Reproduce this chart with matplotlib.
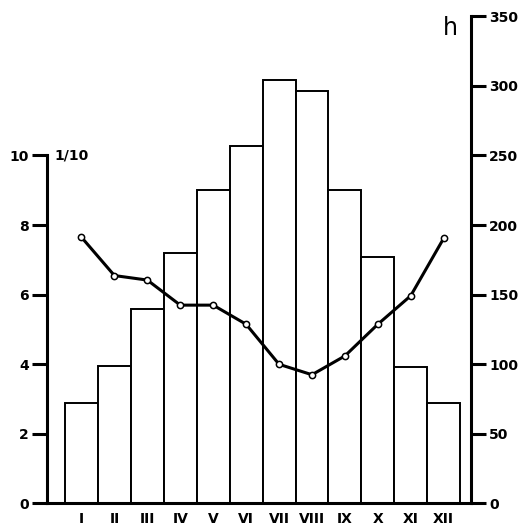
import matplotlib
matplotlib.use("Agg")
import matplotlib.pyplot as plt

months = ["I", "II", "III", "IV", "V", "VI", "VII", "VIII", "IX", "X", "XI", "XII"]
sunshine_h = [72, 99, 140, 180, 225, 257, 304, 296, 225, 177, 98, 72]
cloud_tenths = [7.65, 6.55, 6.42, 5.7, 5.7, 5.15, 4.0, 3.7, 4.24, 5.15, 5.97, 7.62]
left_ticks = [0, 2, 4, 6, 8, 10]
right_ticks = [0, 50, 100, 150, 200, 250, 300, 350]

plt.rcParams['font.family'] = ['DejaVu Sans']

fig = plt.figure(figsize=(5.31, 5.31), dpi=100)
ax = fig.add_axes([0.088, 0.0518, 0.799, 0.9175])
ax2 = ax.twinx()

x = list(range(1, len(months) + 1))

# Bars on right axis (hours)
ax2.bar(x, sunshine_h, width=1.0, facecolor="white", edgecolor="black", linewidth=1.4)
ax2.set_ylim(0, 350)
ax2.set_yticks(right_ticks)
ax2.set_yticklabels([str(t) for t in right_ticks], fontsize=10, fontweight="bold")

# Line on left axis (cloudiness 1/10)
ax.plot(x, cloud_tenths, color="black", linewidth=2.2, marker="o", markersize=4.5,
        markerfacecolor="white", markeredgecolor="black", markeredgewidth=1.1, zorder=5)
ax.set_ylim(0, 14)
ax.set_yticks(left_ticks)
ax.set_yticklabels([str(t) for t in left_ticks], fontsize=10, fontweight="bold")
ax.set_xlim(-0.056, 12.83)
ax.set_xticks(x)
ax.set_xticklabels(months, fontsize=10, fontweight="bold")

ax.set_zorder(ax2.get_zorder() + 1)
ax.patch.set_visible(False)

for a in (ax, ax2):
    a.spines["top"].set_visible(False)
    for s in a.spines.values():
        s.set_linewidth(2.2)
ax.spines["right"].set_visible(False)
ax2.spines["left"].set_visible(False)
ax2.spines["bottom"].set_visible(False)
ax.spines["left"].set_bounds(0, 10)

ax.tick_params(axis="y", length=11, width=2.2, pad=2)
ax2.tick_params(axis="y", length=11, width=2.2, pad=2)
ax.tick_params(axis="x", length=0, pad=6)

ax.text(0.17, 10, "1/10", fontsize=10, fontweight="bold", va="center", ha="left")
ax2.text(12.2, 350, "h", fontsize=17, va="top", ha="center")

fig.savefig("out.png", dpi=100)
